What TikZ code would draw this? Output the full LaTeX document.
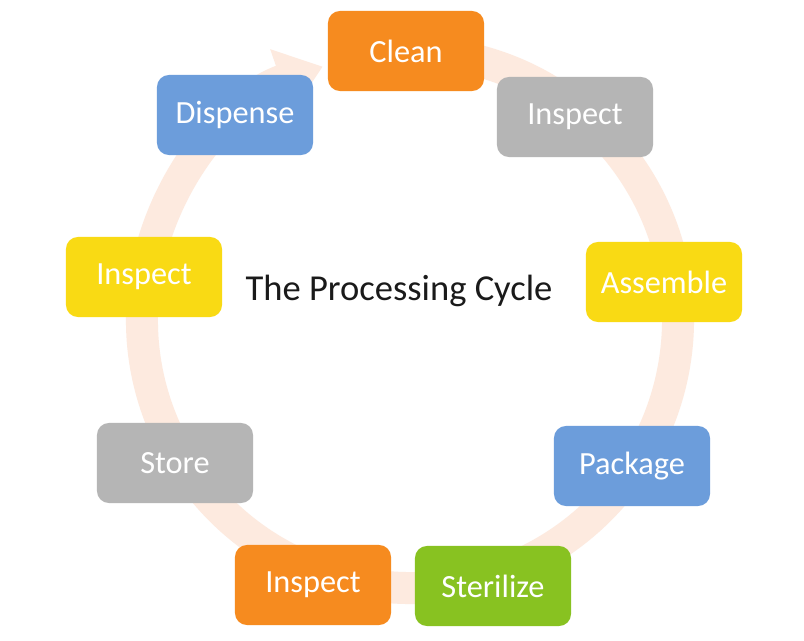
\documentclass[tikz,border=0pt]{standalone}
\usepackage{fontspec}
\setmainfont{Carlito}
\usepackage{tikz}
\usepackage{xcolor}
\usetikzlibrary{arrows.meta}
\definecolor{ringpeach}{HTML}{FDEADF}
\definecolor{stageorange}{HTML}{F68B1F}
\definecolor{stagegray}{HTML}{B5B5B5}
\definecolor{stageyellow}{HTML}{F9DA14}
\definecolor{stageblue}{HTML}{6C9DDB}
\definecolor{stagegreen}{HTML}{88C221}
\definecolor{ink}{HTML}{1A1A1A}
\tikzset{
  stagecard/.style={rounded corners=0.3cm,
                    minimum width=3.9cm,minimum height=2cm,
                    align=center,inner sep=2pt,text=white,
                    font=\fontsize{23}{27}\selectfont},
  orangecard/.style={stagecard,fill=stageorange},
  graycard/.style={stagecard,fill=stagegray},
  yellowcard/.style={stagecard,fill=stageyellow},
  bluecard/.style={stagecard,fill=stageblue},
  greencard/.style={stagecard,fill=stagegreen},
  ringarr/.style={-{Triangle[length=1.1cm,width=1.6cm]},
                  line width=0.8cm,color=ringpeach}
}

\begin{document}
\begin{tikzpicture}[x=0.025cm,y=0.025cm]
  \useasboundingbox[fill=white] (0,0) rectangle (804,640);
  % background cycle arrow
  \draw[ringarr] ([shift={(410,320)}]80:268)
    arc[start angle=80,end angle=-251,radius=268];
  % stages
  \node[orangecard] (clean)    at (406,589) {Clean};
  \node[graycard]   (inspa)    at (575,523) {Inspect};
  \node[yellowcard] (assemble) at (664,358) {Assemble};
  \node[bluecard]   (package)  at (632,174) {Package};
  \node[greencard]  (sterile)  at (493,54)  {Sterilize};
  \node[orangecard] (inspb)    at (313,55)  {Inspect};
  \node[graycard]   (store)    at (175,177) {Store};
  \node[yellowcard] (inspc)    at (144,363) {Inspect};
  \node[bluecard]   (dispense) at (235,525) {Dispense};
  \node[text=ink,font=\fontsize{26}{30}\selectfont] (title) at (399,349)
    {The Processing Cycle};
\end{tikzpicture}
\end{document}
